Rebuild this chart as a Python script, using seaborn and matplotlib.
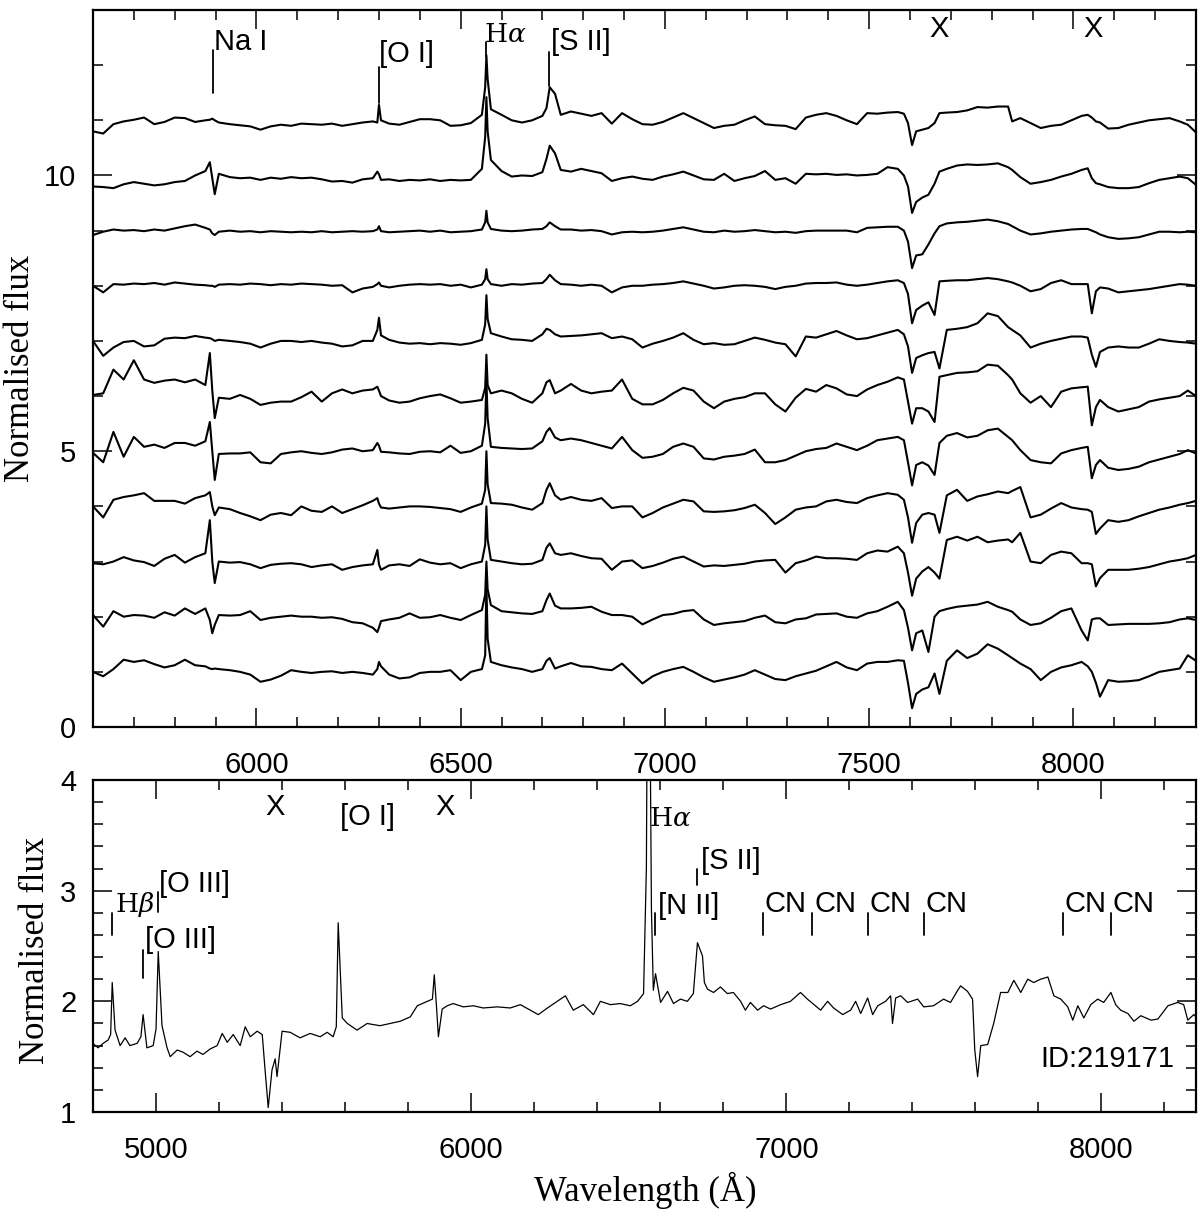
import numpy as np
import matplotlib
matplotlib.use("Agg")
import matplotlib.pyplot as plt
from matplotlib.ticker import MultipleLocator
import seaborn as sns

# ---------------- data ----------------
wave_top = [
    5600, 5625, 5650, 5675, 5700, 5725, 5750, 5775, 5800, 5825, 5850,
    5875, 5886, 5892, 5898, 5908,
    5935, 5960, 5985, 6010, 6035, 6060, 6085, 6110, 6135, 6160, 6185, 6210, 6235, 6260,
    6285, 6296, 6300, 6305,
    6325, 6350, 6375, 6400, 6425, 6450, 6475, 6500, 6525,
    6552, 6560, 6563, 6566, 6574,
    6600, 6625, 6650, 6675, 6700,
    6710, 6718, 6731, 6745,
    6770, 6795, 6820, 6845, 6870, 6895, 6920, 6945, 6970, 6995,
    7020, 7045, 7070, 7095, 7120, 7145, 7170, 7195, 7220, 7245,
    7270, 7295, 7320, 7345, 7370, 7395, 7420, 7445, 7470, 7495,
    7520, 7545, 7570,
    7585, 7595, 7605, 7615, 7630, 7645, 7660, 7672, 7690,
    7715, 7740, 7765, 7790, 7815, 7840,
    7850, 7870, 7895, 7920, 7945, 7970, 7995, 8020,
    8035, 8045, 8055, 8065, 8085,
    8110, 8135, 8160, 8185, 8210, 8235, 8260, 8280, 8300,
]

spec_1 = [
    0.80, 0.76, 0.93, 0.98, 1.01, 1.05, 0.93, 0.97, 1.05, 1.04, 0.97,
    1.00, 1.01, 1.03, 1.00, 0.96,
    0.93, 0.91, 0.89, 0.83, 0.89, 0.92, 0.90, 0.94, 0.93, 0.92, 0.94, 0.90, 0.93, 0.96,
    0.98, 0.96, 1.28, 1.00,
    0.94, 0.92, 0.97, 1.02, 1.02, 1.00, 0.90, 0.91, 0.95,
    1.10, 1.60, 2.18, 1.75, 1.20,
    1.10, 1.00, 0.96, 1.00, 1.08,
    1.22, 1.60, 1.48, 1.10,
    1.16, 1.12, 1.08, 1.13, 0.94, 1.13, 1.02, 0.93, 0.92, 0.97,
    1.05, 1.13, 1.04, 0.95, 0.86, 0.90, 0.92, 1.00, 1.07, 0.93,
    0.91, 0.90, 0.84, 1.05, 1.10, 1.13, 1.08, 1.00, 0.93, 1.13,
    1.12, 1.14, 1.15,
    1.12, 0.95, 0.55, 0.80, 0.83, 0.86, 0.95, 1.13, 1.14,
    1.15, 1.18, 1.24, 1.23, 1.25, 1.25,
    0.98, 1.04, 0.95, 0.86, 0.90, 0.92, 1.00, 1.08,
    1.10, 1.05, 0.98, 0.96, 0.85,
    0.86, 0.92, 0.96, 1.00, 1.02, 1.04, 0.98, 0.92, 0.78,
]
spec_2 = [
    0.80, 0.79, 0.77, 0.84, 0.88, 0.85, 0.82, 0.84, 0.88, 0.90, 1.00,
    1.08, 1.24, 0.95, 0.66, 1.03,
    0.97, 0.95, 0.96, 0.92, 0.96, 0.94, 0.97, 0.95, 0.96, 0.93, 0.89, 0.90, 0.87, 0.93,
    0.95, 1.07, 1.02, 0.92,
    0.93, 0.90, 0.92, 0.91, 0.93, 0.90, 0.92, 0.91, 0.92,
    1.12, 1.70, 2.42, 1.80, 1.28,
    1.08, 0.98, 1.00, 0.99, 1.06,
    1.30, 1.54, 1.40, 1.10,
    1.07, 1.12, 1.08, 1.04, 0.90, 0.95, 0.98, 0.94, 0.92, 0.98,
    1.02, 1.07, 1.00, 0.93, 0.92, 1.03, 0.90, 0.95, 0.99, 1.08,
    0.92, 0.95, 0.85, 1.03, 1.02, 1.03, 1.01, 1.02, 1.00, 1.01,
    1.03, 1.15, 1.12,
    1.00, 0.80, 0.32, 0.52, 0.60, 0.65, 0.85, 1.07, 1.12,
    1.18, 1.20, 1.19, 1.20, 1.22, 1.15,
    1.10, 0.97, 0.85, 0.88, 0.92, 0.98, 1.03, 1.10,
    1.13, 0.95, 0.86, 0.84, 0.79,
    0.77, 0.77, 0.79, 0.86, 0.92, 0.95, 0.98, 0.95, 0.83,
]
spec_3 = [
    0.92, 0.98, 1.02, 1.00, 1.01, 0.99, 1.02, 1.00, 1.04, 1.08, 1.11,
    1.05, 1.02, 0.95, 0.92, 0.98,
    1.00, 0.98, 0.99, 0.97, 0.99, 0.98, 0.97, 0.98, 0.97, 0.99, 0.97, 0.98, 0.99, 0.98,
    0.99, 1.02, 1.08, 0.99,
    0.97, 0.98, 0.99, 1.00, 0.98, 1.00, 0.97, 0.98, 0.99,
    1.02, 1.15, 1.36, 1.15, 1.03,
    1.00, 0.99, 1.00, 1.02, 1.03,
    1.08, 1.15, 1.08, 1.02,
    1.02, 1.00, 1.01, 0.99, 0.93, 0.97, 0.98, 0.97, 0.98, 1.00,
    1.03, 1.06, 1.02, 0.98, 0.97, 1.00, 0.98, 0.99, 1.01, 0.99,
    0.97, 0.98, 0.96, 0.99, 1.00, 1.00, 1.00, 1.00, 0.97, 1.05,
    1.06, 1.07, 1.07,
    1.00, 0.80, 0.32, 0.55, 0.57, 0.75, 0.95, 1.08, 1.13,
    1.15, 1.16, 1.18, 1.20, 1.17, 1.12,
    1.08, 1.00, 0.93, 0.95, 0.98, 1.00, 1.02, 1.03,
    1.03, 1.00, 0.97, 0.93, 0.88,
    0.85, 0.86, 0.88, 0.93, 0.98, 0.98, 0.97, 0.98, 0.97,
]
spec_4 = [
    1.00, 0.88, 1.03, 1.02, 1.04, 1.03, 1.05, 1.02, 1.06, 1.04, 1.02,
    1.01, 1.00, 1.00, 0.98, 1.02,
    1.03, 1.02, 1.04, 1.03, 1.01, 1.03, 1.02, 1.04, 1.03, 1.02, 1.00, 1.01, 0.88, 0.95,
    0.98, 1.03, 1.06, 1.00,
    0.97, 1.00, 1.02, 1.03, 1.02, 1.03, 1.00, 1.02, 0.97,
    1.02, 1.12, 1.30, 1.12, 1.03,
    1.00, 1.03, 1.02, 1.04, 1.05,
    1.12, 1.20, 1.10, 1.03,
    1.02, 1.00, 1.02, 1.00, 0.88, 0.97, 1.00, 1.00, 1.02, 1.03,
    1.05, 1.08, 1.04, 1.00, 0.95, 0.97, 1.00, 1.01, 1.00, 0.98,
    0.94, 0.98, 1.00, 1.04, 1.05, 1.05, 1.06, 1.02, 1.00, 1.02,
    1.05, 1.08, 1.10,
    1.05, 0.85, 0.32, 0.56, 0.64, 0.70, 0.47, 1.08, 1.09,
    1.10, 1.10, 1.12, 1.14, 1.12, 1.08,
    1.06, 1.00, 0.90, 0.94, 1.05, 1.10, 1.03, 1.03,
    1.03, 0.50, 0.90, 0.97, 0.95,
    0.88, 0.90, 0.92, 0.94, 0.97, 1.00, 1.03, 1.02, 1.00,
]
spec_5 = [
    1.00, 0.73, 0.88, 0.98, 1.00, 0.90, 0.92, 1.04, 1.06, 1.05, 1.09,
    1.06, 1.05, 1.03, 1.00, 1.02,
    1.00, 0.98, 0.95, 0.88, 0.95, 1.00, 1.00, 0.98, 1.00, 0.97, 0.95, 0.90, 0.92, 1.00,
    1.00, 1.20, 1.42, 1.10,
    1.02, 0.97, 0.95, 0.96, 0.94, 0.96, 0.95, 0.93, 0.96,
    1.02, 1.30, 1.83, 1.40, 1.14,
    1.08, 1.03, 1.02, 1.00, 1.12,
    1.22, 1.20, 1.12, 1.08,
    1.09, 1.10, 1.12, 1.14, 1.05, 1.08, 1.03, 0.88, 0.95, 1.00,
    1.06, 1.14, 1.02, 0.94, 0.96, 0.93, 0.94, 1.00, 1.06, 1.02,
    0.97, 0.94, 0.72, 1.08, 1.06, 1.12, 1.18, 1.10, 1.03, 1.05,
    1.10, 1.15, 1.20,
    1.12, 0.90, 0.42, 0.69, 0.74, 0.78, 0.80, 0.50, 1.20,
    1.22, 1.25, 1.32, 1.50, 1.45, 1.25,
    1.20, 1.10, 0.88, 0.95, 1.00, 1.04, 1.08, 1.08,
    1.06, 0.75, 0.53, 0.80, 0.88,
    0.90, 0.88, 0.88, 0.95, 1.03, 1.00, 0.98, 0.97, 0.95,
]
spec_6 = [
    1.02, 1.05, 1.48, 1.30, 1.65, 1.30, 1.24, 1.28, 1.30, 1.25, 1.30,
    1.20, 1.78, 1.10, 0.60, 0.97,
    0.95, 1.02, 0.95, 0.84, 0.88, 0.90, 0.90, 0.98, 1.08, 0.90, 1.05, 1.12, 1.05, 1.10,
    1.12, 1.17, 1.10, 1.00,
    0.92, 0.88, 0.90, 0.96, 1.00, 1.03, 0.96, 0.88, 0.90,
    0.93, 1.15, 1.75, 1.20, 1.05,
    1.10, 1.05, 0.95, 0.88, 1.05,
    1.25, 1.29, 1.05, 1.10,
    1.22, 1.10, 1.05, 1.08, 1.10, 1.30, 0.95, 0.85, 0.85, 0.93,
    1.05, 1.15, 1.10, 0.90, 0.78, 0.90, 0.95, 0.98, 1.05, 1.05,
    0.85, 0.72, 0.97, 1.13, 1.08, 1.20, 1.14, 1.03, 1.00, 1.12,
    1.20, 1.26, 1.34,
    1.30, 0.90, 0.50, 0.78, 0.78, 0.72, 0.53, 1.35, 1.38,
    1.42, 1.43, 1.45, 1.57, 1.55, 1.38,
    1.30, 1.05, 0.88, 1.00, 0.80, 1.08, 1.14, 1.16,
    1.17, 0.47, 0.80, 0.93, 0.80,
    0.72, 0.76, 0.80, 0.90, 0.94, 0.97, 1.00, 1.10, 1.00,
]
spec_7 = [
    0.97, 0.80, 1.35, 0.90, 1.26, 1.08, 1.12, 1.06, 1.15, 1.15, 1.10,
    1.18, 1.53, 1.00, 0.48, 0.95,
    0.96, 0.96, 0.98, 0.80, 0.78, 0.95, 0.98, 1.00, 0.97, 0.95, 0.98, 1.03, 1.05, 1.00,
    1.02, 1.15, 1.10, 0.99,
    0.98, 0.96, 0.95, 0.99, 1.00, 0.98, 1.10, 0.97, 1.00,
    1.10, 1.50, 2.30, 1.60, 1.08,
    1.06, 1.05, 1.04, 1.05, 1.18,
    1.35, 1.42, 1.25, 1.20,
    1.23, 1.20, 1.15, 1.10, 1.05, 1.26, 1.02, 0.88, 0.90, 0.95,
    1.08, 1.14, 1.08, 0.87, 0.85, 0.90, 0.92, 0.95, 1.03, 0.80,
    0.80, 0.84, 0.92, 1.00, 1.04, 1.06, 1.14, 1.08, 1.02, 1.10,
    1.20, 1.23, 1.26,
    1.20, 0.80, 0.38, 0.75, 0.80, 0.74, 0.57, 1.15, 1.28,
    1.33, 1.25, 1.28, 1.38, 1.41, 1.26,
    1.20, 1.02, 0.84, 0.80, 0.78, 0.96, 1.02, 1.06,
    1.08, 0.51, 0.75, 0.84, 0.70,
    0.66, 0.68, 0.72, 0.80, 0.85, 0.90, 0.95, 1.02, 0.96,
]
spec_8 = [
    1.00, 0.80, 1.12, 1.17, 1.20, 1.24, 1.10, 1.10, 1.10, 1.05, 1.15,
    1.20, 1.26, 1.00, 0.84, 0.98,
    0.95, 0.88, 0.82, 0.75, 0.85, 0.88, 0.84, 1.00, 0.92, 0.90, 1.00, 0.88, 0.95, 1.02,
    1.10, 1.15, 1.05, 0.98,
    0.96, 0.98, 1.00, 1.00, 0.99, 0.97, 0.95, 0.90, 0.98,
    1.05, 1.30, 2.00, 1.40, 1.06,
    1.05, 1.03, 0.98, 0.94, 1.06,
    1.30, 1.42, 1.20, 1.12,
    1.17, 1.12, 1.10, 1.15, 0.97, 1.00, 1.00, 0.80, 0.88, 0.98,
    1.05, 1.12, 1.09, 0.91, 0.90, 0.91, 0.93, 0.97, 1.03, 0.88,
    0.68, 0.80, 0.94, 0.98, 1.00, 1.09, 1.12, 1.08, 1.06, 1.15,
    1.20, 1.24, 1.21,
    1.12, 0.80, 0.34, 0.70, 0.85, 0.88, 0.85, 0.52, 1.20,
    1.30, 1.10, 1.18, 1.22, 1.27, 1.24,
    1.28, 1.35, 0.80, 0.85, 0.96, 1.06, 0.98, 0.95,
    0.94, 0.90, 0.50, 0.60, 0.75,
    0.72, 0.75, 0.82, 0.88, 0.94, 0.98, 1.03, 1.06, 1.10,
]
spec_9 = [
    0.97, 0.95, 1.00, 1.08, 1.02, 0.99, 0.92, 1.05, 1.12, 0.98, 1.08,
    1.15, 1.75, 1.00, 0.61, 1.00,
    0.98, 0.99, 0.95, 0.88, 0.94, 0.96, 0.97, 0.95, 0.90, 0.93, 0.95, 0.85, 0.90, 0.93,
    0.95, 1.21, 0.95, 0.85,
    0.93, 0.95, 0.92, 1.04, 0.98, 0.95, 0.97, 0.88, 0.95,
    1.00, 1.30, 2.00, 1.40, 1.03,
    1.00, 0.97, 0.95, 0.96, 1.03,
    1.25, 1.33, 1.15, 1.12,
    1.15, 1.10, 1.06, 1.05, 0.85, 1.00, 1.02, 0.88, 0.92, 0.98,
    1.05, 1.09, 1.00, 0.91, 0.93, 0.92, 0.94, 0.96, 1.00, 1.02,
    1.03, 0.80, 0.97, 1.02, 1.09, 1.06, 1.06, 1.05, 1.03, 1.15,
    1.20, 1.18, 1.27,
    1.15, 0.80, 0.38, 0.69, 0.82, 0.90, 0.80, 0.69, 1.39,
    1.45, 1.38, 1.45, 1.35, 1.38, 1.40,
    1.35, 1.52, 1.00, 0.97, 1.12, 1.18, 1.15, 0.97,
    0.97, 0.95, 0.55, 0.70, 0.85,
    0.85, 0.85, 0.87, 0.90, 0.95, 1.00, 1.03, 1.06, 1.12,
]
spec_10 = [
    1.03, 0.82, 1.10, 1.00, 1.03, 1.02, 0.98, 1.08, 1.02, 1.15, 1.05,
    1.15, 0.94, 0.70, 0.85, 1.03,
    1.02, 1.03, 1.10, 0.94, 0.98, 1.00, 1.02, 1.00, 1.00, 0.98, 0.99, 0.96, 0.90, 0.88,
    0.80, 0.72, 0.80, 0.92,
    0.95, 0.98, 1.06, 0.98, 0.99, 1.03, 0.98, 0.94, 1.03,
    1.12, 1.40, 2.00, 1.50, 1.21,
    1.10, 1.08, 1.06, 1.05, 1.10,
    1.30, 1.42, 1.20, 1.15,
    1.15, 1.16, 1.18, 1.09, 1.03, 1.03, 1.00, 0.86, 0.95, 1.03,
    1.05, 1.10, 1.12, 0.95, 0.85, 0.88, 0.90, 0.92, 0.98, 1.02,
    0.90, 0.88, 0.95, 0.97, 1.04, 1.05, 1.06, 1.00, 0.98, 1.06,
    1.10, 1.18, 1.27,
    1.12, 0.80, 0.39, 0.70, 0.75, 0.36, 1.00, 1.10, 1.14,
    1.18, 1.20, 1.22, 1.27, 1.18, 1.12,
    1.09, 0.95, 0.85, 0.88, 0.98, 1.10, 1.15, 0.75,
    0.57, 0.95, 0.97, 0.97, 0.85,
    0.86, 0.87, 0.87, 0.87, 0.88, 0.90, 0.95, 0.97, 0.94,
]
spec_11 = [
    1.00, 0.92, 1.05, 1.22, 1.18, 1.21, 1.14, 1.08, 1.12, 1.22, 1.12,
    1.10, 1.06, 1.05, 1.06, 1.05,
    1.03, 1.00, 0.95, 0.82, 0.86, 0.93, 1.03, 1.00, 0.98, 1.00, 1.01, 0.98, 1.00, 0.98,
    0.95, 1.05, 1.18, 1.10,
    0.95, 0.88, 0.90, 0.98, 1.00, 1.00, 1.03, 0.85, 1.00,
    1.05, 1.30, 2.60, 1.60, 1.18,
    1.12, 1.08, 1.05, 1.00, 1.05,
    1.20, 1.25, 1.06, 1.10,
    1.16, 1.10, 1.09, 1.05, 1.03, 1.15, 0.97, 0.79, 0.92, 1.00,
    1.05, 1.09, 1.00, 0.90, 0.82, 0.86, 0.90, 0.95, 1.03, 0.95,
    0.87, 0.85, 0.92, 0.97, 1.02, 1.10, 1.18, 1.08, 1.03, 1.15,
    1.18, 1.18, 1.21,
    1.20, 0.80, 0.34, 0.60, 0.68, 0.72, 0.97, 0.60, 1.20,
    1.39, 1.25, 1.33, 1.50, 1.42, 1.30,
    1.25, 1.15, 1.05, 0.85, 1.00, 1.08, 1.12, 1.18,
    1.10, 1.00, 0.80, 0.55, 0.85,
    0.82, 0.83, 0.85, 0.92, 1.00, 1.03, 1.06, 1.30, 1.20,
]
top_spectra = [spec_1, spec_2, spec_3, spec_4, spec_5, spec_6,
               spec_7, spec_8, spec_9, spec_10, spec_11]
top_offsets = [10, 9, 8, 7, 6, 5, 4, 3, 2, 1, 0]

wave_bot = [
    4800, 4816, 4832, 4848, 4856, 4861, 4870, 4886, 4902, 4917,
    4940, 4952, 4959, 4971, 4991, 5000, 5007, 5019, 5035, 5045,
    5067, 5086, 5108, 5130, 5149, 5172, 5194, 5210, 5226, 5245,
    5267, 5283, 5299, 5321, 5337, 5346, 5356, 5368, 5378, 5384,
    5400, 5426, 5457, 5489, 5521, 5543, 5562, 5572, 5578, 5591,
    5607, 5638, 5670, 5689, 5711, 5743, 5775, 5807, 5829, 5861,
    5877, 5883, 5890, 5896, 5908, 5924, 5943, 5965, 5975, 6007,
    6038, 6083, 6124, 6156, 6188, 6213, 6242, 6273, 6299, 6324,
    6356, 6388, 6410, 6442, 6473, 6505, 6528, 6547, 6556, 6560,
    6566, 6572, 6578, 6585, 6601, 6623, 6642, 6664, 6686, 6705,
    6718, 6734, 6740, 6750, 6769, 6791, 6813, 6832, 6855, 6870,
    6886, 6909, 6928, 6950, 6982, 7013, 7045, 7067, 7109, 7131,
    7150, 7179, 7204, 7220, 7236, 7258, 7274, 7290, 7315, 7331,
    7337, 7347, 7363, 7385, 7417, 7436, 7467, 7499, 7521, 7544,
    7553, 7575, 7591, 7598, 7607, 7617, 7639, 7658, 7680, 7703,
    7722, 7744, 7766, 7785, 7807, 7830, 7849, 7871, 7893, 7909,
    7925, 7944, 7966, 7988, 8007, 8030, 8045, 8061, 8084, 8103,
    8125, 8157, 8179, 8211, 8242, 8261, 8274, 8293, 8300,
]
flux_bot = [
    1.62, 1.58, 1.62, 1.65, 1.70, 2.17, 1.74, 1.60, 1.67, 1.60,
    1.62, 1.68, 1.88, 1.58, 1.60, 1.75, 2.45, 1.78, 1.58, 1.50,
    1.56, 1.54, 1.50, 1.55, 1.52, 1.57, 1.60, 1.71, 1.63, 1.70,
    1.60, 1.77, 1.68, 1.73, 1.70, 1.38, 1.04, 1.38, 1.48, 1.32,
    1.73, 1.72, 1.67, 1.71, 1.68, 1.72, 1.68, 1.77, 2.71, 1.85,
    1.80, 1.74, 1.80, 1.79, 1.78, 1.80, 1.82, 1.86, 1.96, 2.00,
    2.02, 2.24, 1.95, 1.68, 1.93, 1.96, 1.98, 1.96, 1.95, 1.96,
    1.94, 1.95, 1.94, 1.97, 1.92, 1.88, 1.94, 2.00, 2.05, 1.92,
    1.97, 1.88, 2.00, 1.97, 1.98, 1.96, 2.00, 2.07, 3.21, 5.50,
    5.20, 2.83, 2.10, 2.25, 1.99, 2.09, 1.98, 2.02, 2.00, 2.07,
    2.53, 2.41, 2.17, 2.11, 2.08, 2.13, 2.07, 2.08, 2.00, 1.92,
    1.99, 1.92, 1.96, 1.93, 1.97, 2.00, 2.08, 2.02, 1.92, 2.00,
    1.94, 1.88, 1.92, 2.00, 1.89, 2.03, 1.88, 1.96, 2.00, 2.05,
    1.80, 2.03, 2.05, 1.99, 2.02, 1.95, 1.96, 2.02, 1.99, 2.10,
    2.14, 2.09, 2.02, 1.56, 1.32, 1.60, 1.61, 1.80, 2.08, 2.08,
    2.19, 2.08, 2.20, 2.17, 2.20, 2.22, 2.05, 2.02, 1.95, 1.83,
    1.96, 1.85, 1.97, 2.02, 1.99, 2.08, 1.97, 1.92, 1.89, 1.82,
    1.87, 1.83, 1.84, 1.96, 1.99, 1.97, 1.83, 1.88, 1.86,
]

# line identifications: (label, marker wavelength, text x, text baseline, marker top, marker bottom, serif?)
top_lines = [
    ("Na I", 5893, 5896, 12.28, 12.28, 11.50, False),
    ("[O I]", 6300, 6300, 12.06, 11.97, 11.32, False),
    ("H$\\alpha$", 6563, 6557, 12.42, 12.42, 12.15, True),
    ("[S II]", 6717, 6721, 12.28, 12.24, 11.62, False),
]
top_x_marks = [7672, 8049]
bot_lines = [
    ("H$\\beta$", 4861, 4870, 2.81, 2.80, 2.60, True),
    ("[O III]", 5007, 5010, 2.99, 2.99, 2.81, False),
    ("[O III]", 4959, 4965, 2.48, 2.46, 2.21, False),
    ("[N II]", 6583, 6594, 2.79, 2.80, 2.60, False),
    ("[S II]", 6717, 6728, 3.20, 3.20, 3.05, False),
]
cn_waves = [6925, 7083, 7258, 7436, 7877, 8030]
bot_x_marks = [5378, 5918]

# ---------------- style ----------------
sns.set_style("ticks")
plt.rcParams["font.family"] = ["Liberation Sans", "DejaVu Sans"]
plt.rcParams["mathtext.fontset"] = "dejavuserif"
for key in ("text.color", "axes.labelcolor", "xtick.color", "ytick.color",
            "axes.edgecolor"):
    plt.rcParams[key] = "black"

W, H = 1200, 1211
fig = plt.figure(figsize=(12, 12.11), dpi=100)
ax1 = fig.add_axes([93 / W, 1 - 727 / H, 1103 / W, 717 / H])
ax2 = fig.add_axes([93 / W, 1 - 1112 / H, 1103 / W, 332 / H])

for flux, off in zip(top_spectra, top_offsets):
    sns.lineplot(x=wave_top, y=np.asarray(flux) + off, ax=ax1, color="black",
                 lw=1.5, sort=False, estimator=None, legend=False)
sns.lineplot(x=wave_bot, y=flux_bot, ax=ax2, color="black", lw=0.9,
             sort=False, estimator=None, legend=False)

ax1.set_xlim(5600, 8300)
ax1.set_ylim(0, 13)
ax2.set_xlim(4800, 8300)
ax2.set_ylim(1, 4)

ax1.xaxis.set_major_locator(MultipleLocator(500))
ax1.xaxis.set_minor_locator(MultipleLocator(100))
ax1.yaxis.set_major_locator(MultipleLocator(5))
ax1.yaxis.set_minor_locator(MultipleLocator(1))
ax2.xaxis.set_major_locator(MultipleLocator(1000))
ax2.xaxis.set_minor_locator(MultipleLocator(200))
ax2.yaxis.set_major_locator(MultipleLocator(1))
ax2.yaxis.set_minor_locator(MultipleLocator(0.2))

TICK_FS = 21
for ax in (ax1, ax2):
    ax.set_xlabel("")
    ax.set_ylabel("")
    ax.tick_params(which="both", direction="in", top=True, right=True,
                   width=1.1, colors="black", labelsize=TICK_FS,
                   labelcolor="black")
    ax.tick_params(which="major", length=14)
    ax.tick_params(which="minor", length=7)
    ax.tick_params(axis="x", which="major", pad=17)
    ax.tick_params(axis="y", which="major", pad=12)
    for s in ax.spines.values():
        s.set_linewidth(1.6)
        s.set_color("black")

ANN_FS = 21
SERIF_FS = 19

def annotate(ax, lines):
    for label, lw_, tx, base, mtop, mbot, serif in lines:
        ax.plot([lw_, lw_], [mbot, mtop], color="black", lw=1.3)
        if serif:
            ax.text(tx, base, label, ha="left", va="baseline", color="black",
                    fontsize=SERIF_FS, family="DejaVu Serif")
        else:
            ax.text(tx, base, label, ha="left", va="baseline", color="black",
                    fontsize=ANN_FS)

annotate(ax1, top_lines)
for xm in top_x_marks:
    ax1.text(xm, 12.51, "X", ha="center", va="baseline", color="black",
             fontsize=ANN_FS)

annotate(ax2, bot_lines)
for cw in cn_waves:
    ax2.plot([cw, cw], [2.60, 2.80], color="black", lw=1.3)
    ax2.text(cw + 6, 2.81, "CN", ha="left", va="baseline", color="black",
             fontsize=ANN_FS)
for xm in bot_x_marks:
    ax2.text(xm, 3.68, "X", ha="center", va="baseline", color="black",
             fontsize=ANN_FS)
ax2.text(5584, 3.59, "[O I]", ha="left", va="baseline", color="black",
         fontsize=ANN_FS)
ax2.text(6563, 3.58, "H$\\alpha$", ha="left", va="baseline", color="black",
         fontsize=SERIF_FS, family="DejaVu Serif")
ax2.text(7807, 1.41, "ID:219171", ha="left", va="baseline", color="black",
         fontsize=ANN_FS)

LAB_FS = 25
fig.text(21 / W, 1 - 368 / H, "Normalised flux", rotation=90, ha="center",
         va="center", fontsize=LAB_FS, family="Liberation Serif", color="black")
fig.text(36 / W, 1 - 950 / H, "Normalised flux", rotation=90, ha="center",
         va="center", fontsize=LAB_FS, family="Liberation Serif", color="black")
fig.text(645 / W, 1 - 1190 / H, "Wavelength (Å)", ha="center", va="center",
         fontsize=LAB_FS, family="Liberation Serif", color="black")

fig.savefig("out.png", dpi=100, facecolor="white")
